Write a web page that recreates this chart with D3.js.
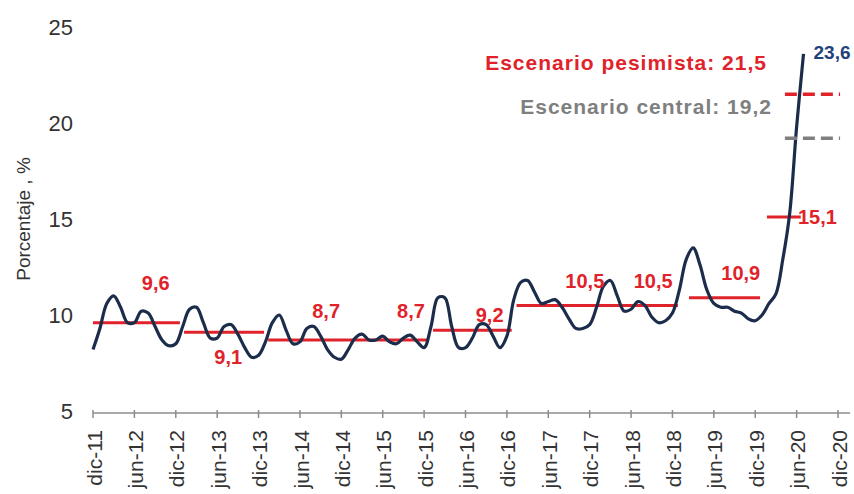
<!DOCTYPE html>
<html>
<head>
<meta charset="utf-8">
<script src="https://cdn.jsdelivr.net/npm/d3@7"></script>
<style>
  body { margin: 0; background: #fff; }
  text { font-family: "Liberation Sans", Arial, sans-serif; }
</style>
</head>
<body>
<svg width="854" height="494"></svg>
<script>
// tick labels, one every 6 months starting at dic-11
const tickLabels = ["dic-11","jun-12","dic-12","jun-13","dic-13","jun-14","dic-14","jun-15","dic-15",
  "jun-16","dic-16","jun-17","dic-17","jun-18","dic-18","jun-19","dic-19","jun-20","dic-20"];

// monthly rate, dic-11 .. jul-20
const rate = [
  8.2, 9.3, 10.6, 11.0, 10.4, 9.6, 9.6, 10.2, 10.1, 9.4, 8.7, 8.4,
  8.5, 9.4, 10.3, 10.4, 9.6, 8.8, 8.8, 9.4, 9.5, 9.0, 8.3, 7.8,
  7.9, 8.6, 9.6, 10.0, 9.2, 8.5, 8.6, 9.3, 9.4, 8.9, 8.2, 7.8,
  7.7, 8.2, 8.8, 9.0, 8.7, 8.7, 8.9, 8.6, 8.5, 8.8, 8.95, 8.6,
  8.3, 9.4, 10.9, 10.9, 9.4, 8.3, 8.3, 8.8, 9.5, 9.5, 8.9, 8.3,
  8.9, 10.8, 11.7, 11.8, 11.2, 10.6, 10.7, 10.8, 10.4, 9.8, 9.3, 9.3,
  9.5, 10.4, 11.5, 11.8, 11.0, 10.2, 10.3, 10.7, 10.5, 9.9, 9.6, 9.7,
  10.1, 11.3, 12.9, 13.5, 12.6, 11.3, 10.6, 10.4, 10.4, 10.2, 10.1, 9.8,
  9.7, 10.0, 10.6, 11.1, 12.9, 15.3, 19.8, 23.6
];

// yearly averages 2012..2020 and the month span of each bar
const avgValues = [9.6, 9.1, 8.7, 8.7, 9.2, 10.5, 10.5, 10.9, 15.1];
const avgStart = [0, 13.2, 25.4, 37.1, 49.3, 61.4, 73.2, 86.4, 97.7];
const avgEnd = [12.6, 24.8, 37.1, 48.6, 60.7, 73.2, 84.8, 96.7, 102.6];

const scenarioNames = ["Escenario pesimista", "Escenario central"];
const scenarioValues = [21.5, 19.2];

const svg = d3.select("svg");
const fmt = d3.formatLocale({decimal: ",", thousands: ".", grouping: [3], currency: ["", ""]}).format(".1f");

const red = "#e0232b";
const navy = "#1b2d4b";
const grey = "#7f7f7f";

const x = d3.scaleLinear().domain([0, 108]).range([93, 838]);
const y = d3.scaleLinear().domain([5, 25]).range([411, 27]);

// x axis
svg.append("line")
    .attr("x1", x(0)).attr("x2", 850)
    .attr("y1", 413).attr("y2", 413)
    .attr("stroke", "#8c8c8c").attr("stroke-width", 1.5);

const xt = svg.append("g").selectAll("g")
    .data(tickLabels)
    .enter().append("g")
        .attr("transform", (d, i) => `translate(${x(i * 6)}, 413)`);
xt.append("line")
    .attr("y1", -3).attr("y2", 5)
    .attr("stroke", "#8c8c8c").attr("stroke-width", 1.5);
xt.append("text")
    .attr("transform", "translate(1, 17) rotate(-90)")
    .attr("text-anchor", "end")
    .attr("dy", "0.36em")
    .attr("font-size", 21)
    .attr("fill", "#333")
    .text(d => d);

// y axis labels (no line)
svg.append("g").selectAll("text")
    .data(y.ticks(4))
    .enter().append("text")
        .attr("x", 73)
        .attr("y", d => y(d))
        .attr("dy", "0.36em")
        .attr("text-anchor", "end")
        .attr("font-size", 22)
        .attr("fill", "#333")
        .text(d => d);

svg.append("text")
    .attr("transform", `translate(30, ${y(15)}) rotate(-90)`)
    .attr("text-anchor", "middle")
    .attr("font-size", 19)
    .attr("fill", "#333")
    .text("Porcentaje , %");

// yearly average bars
svg.append("g").selectAll("line")
    .data(avgValues)
    .enter().append("line")
        .attr("x1", (d, i) => x(avgStart[i]))
        .attr("x2", (d, i) => x(avgEnd[i]))
        .attr("y1", d => y(d)).attr("y2", d => y(d))
        .attr("stroke", red).attr("stroke-width", 3);

// monthly series
const line = d3.line()
    .x((d, i) => x(i))
    .y(d => y(d))
    .curve(d3.curveCatmullRom.alpha(0.5));

svg.append("path")
    .datum(rate)
    .attr("d", line)
    .attr("fill", "none")
    .attr("stroke", navy)
    .attr("stroke-width", 3.2);

// scenario dashes
const scenColors = [red, grey];
svg.append("g").selectAll("line")
    .data(scenarioValues)
    .enter().append("line")
        .attr("x1", x(100.3)).attr("x2", x(108.3))
        .attr("y1", d => y(d)).attr("y2", d => y(d))
        .attr("stroke", (d, i) => scenColors[i])
        .attr("stroke-width", 3.5)
        .attr("stroke-dasharray", "12,6");

svg.append("g").selectAll("text")
    .data(scenarioValues)
    .enter().append("text")
        .attr("x", (d, i) => i == 0 ? 767 : 772)
        .attr("y", (d, i) => i == 0 ? 62 : 106)
        .attr("dy", "0.36em")
        .attr("text-anchor", "end")
        .attr("font-size", 21)
        .attr("font-weight", "bold")
        .attr("letter-spacing", 1)
        .attr("fill", (d, i) => scenColors[i])
        .text((d, i) => `${scenarioNames[i]}: ${fmt(d)}`);

// average labels
const labelMonth = [9.1, 19.6, 33.8, 46.1, 57.5, 71.3, 81.2, 93.9, 102.2];
const labelDy = [-40, 25, -29, -29, -16, -25, -25, -25, 0];
svg.append("g").selectAll("text")
    .data(avgValues)
    .enter().append("text")
        .attr("x", (d, i) => x(labelMonth[i]))
        .attr("y", (d, i) => y(d) + labelDy[i])
        .attr("dy", "0.36em")
        .attr("text-anchor", (d, i) => i == avgValues.length - 1 ? "start" : "middle")
        .attr("font-size", 20)
        .attr("font-weight", "bold")
        .attr("fill", red)
        .text(d => fmt(d));

// last value
svg.append("text")
    .attr("x", x(rate.length - 1) + 10)
    .attr("y", y(rate[rate.length - 1]) - 2)
    .attr("dy", "0.36em")
    .attr("font-size", 19)
    .attr("font-weight", "bold")
    .attr("fill", "#22427a")
    .text(fmt(rate[rate.length - 1]));
</script>
</body>
</html>
